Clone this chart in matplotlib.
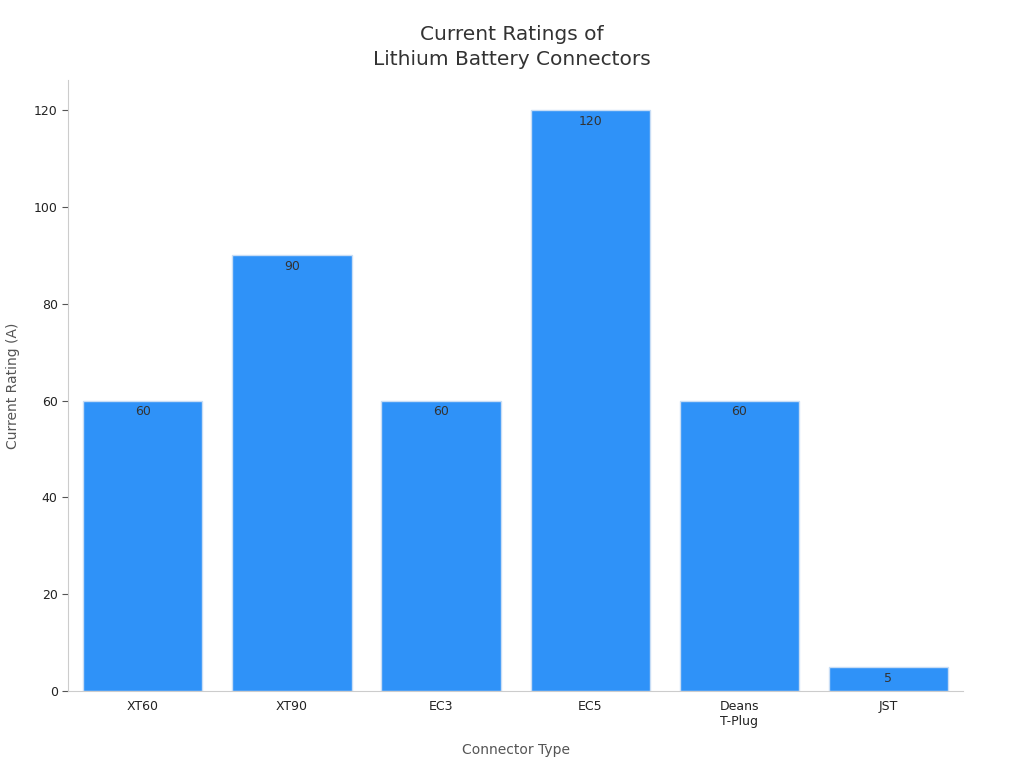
import matplotlib
matplotlib.use("Agg")
import matplotlib.pyplot as plt

categories = ["XT60", "XT90", "EC3", "EC5", "Deans\nT-Plug", "JST"]
ratings = [60, 90, 60, 120, 60, 5]

fig = plt.figure(figsize=(10.24, 7.68), dpi=100)
ax = fig.add_axes([0.0665, 0.100, 0.874, 0.796])
x = range(len(categories))
bars = ax.bar(x, ratings, width=0.8, color="#2F92F8", edgecolor="#C8DDF5", linewidth=1)
for xi, v in zip(x, ratings):
    ax.text(xi, v - 1, str(v), ha="center", va="top", fontsize=9, color="#333333")
ax.set_xlim(-0.5, 5.5)
ax.set_ylim(0, 126.2)
ax.set_xticks(list(x))
ax.set_xticklabels(categories, fontsize=9, color="#222222")
ax.set_yticks(range(0, 121, 20))
ax.tick_params(axis="y", labelsize=9, labelcolor="#222222", color="#555555", length=4)
ax.tick_params(axis="x", length=0, pad=6)
for s in ["top", "right"]:
    ax.spines[s].set_visible(False)
for s in ["left", "bottom"]:
    ax.spines[s].set_color("#CCCCCC")
ax.set_xlabel("Connector Type", fontsize=10, color="#555555", labelpad=11)
ax.set_ylabel("Current Rating (A)", fontsize=10, color="#555555", labelpad=10)
fig.suptitle("Current Ratings of\nLithium Battery Connectors", fontsize=14.5, color="#333333",
             y=0.968, linespacing=1.45)
fig.savefig("out.png", dpi=100)
